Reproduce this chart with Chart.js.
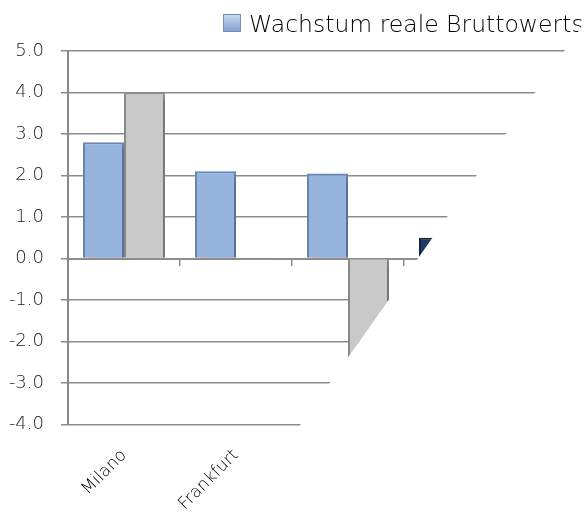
<!DOCTYPE html>
<html>
<head>
<meta charset="utf-8">
<script src="https://cdn.jsdelivr.net/npm/chart.js@4/dist/chart.umd.min.js"></script>
<style>
  html, body { margin: 0; padding: 0; background: #fff; overflow: hidden; }
  #wrap { width: 700px; height: 515px; }
</style>
</head>
<body>
<div id="wrap"><canvas id="chart" width="700" height="515"></canvas></div>
<script>
// categories (only the first two labels survive the cut-off in the original)
var categories = ['Milano', 'Frankfurt', '', '', ''];
var growthLabel = 'Wachstum reale Bruttowertschöpfung';
var growthValues = [2.8, 2.1, 2.05, 0.5, null];
var secondLabel = 'Serie 2';
var secondValues = [4.0, -0.03, -2.6, null, null];
var yTicks = { min: -4, max: 5, step: 1 };

var blueFill = ['#95b5df', '#95b5df', '#95b5df', '#1f3a60', '#95b5df'];
var blueEdge = ['#6a8ab8', '#6a8ab8', '#6a8ab8', '#14263f', '#6a8ab8'];

// the picture is cut along a diagonal line, everything right of it is blank
var diagonalCut = {
    id: 'diagonalCut',
    beforeDraw: function(chart) {
        var ctx = chart.ctx;
        ctx.save();
        ctx.beginPath();
        ctx.moveTo(0, 0);
        ctx.lineTo(600.5, 0);
        ctx.lineTo(236.5, 515);
        ctx.lineTo(0, 515);
        ctx.closePath();
        ctx.clip();
    },
    afterDraw: function(chart) {
        var ctx = chart.ctx;
        // legend, drawn by hand so it can start where the original did
        var ds = chart.data.datasets[0];
        var g = ctx.createLinearGradient(0, 14, 0, 32);
        g.addColorStop(0, '#c9dbf2');
        g.addColorStop(1, '#7f9fcc');
        ctx.fillStyle = g;
        ctx.fillRect(223, 14, 18, 18);
        ctx.strokeStyle = '#6e8dba';
        ctx.lineWidth = 1;
        ctx.strokeRect(223.5, 14.5, 17, 17);
        ctx.fillStyle = '#000';
        ctx.font = '300 23.5px "DejaVu Sans"';
        ctx.textBaseline = 'alphabetic';
        ctx.textAlign = 'left';
        ctx.fillText(ds.label, 249, 32);
        ctx.restore();
    }
};

var barShadow = {
    id: 'barShadow',
    beforeDatasetsDraw: function(chart) {
        var ctx = chart.ctx;
        ctx.save();
        ctx.shadowColor = 'rgba(0,0,0,0.28)';
        ctx.shadowBlur = 6;
        ctx.shadowOffsetX = 2;
        ctx.shadowOffsetY = 4;
    },
    afterDatasetsDraw: function(chart) {
        chart.ctx.restore();
    }
};

var ctx = document.getElementById('chart').getContext('2d');
new Chart(ctx, {
    type: 'bar',
    data: {
        labels: categories,
        datasets: [{
            label: growthLabel,
            data: growthValues,
            backgroundColor: blueFill,
            borderColor: blueEdge,
            borderWidth: 2,
            xAxisID: 'x'
        }, {
            label: secondLabel,
            data: secondValues,
            backgroundColor: '#c9c9c9',
            borderColor: '#8f8f8f',
            borderWidth: 2,
            xAxisID: 'x'
        }]
    },
    options: {
        responsive: false,
        animation: false,
        categoryPercentage: 0.732,
        barPercentage: 1.0,
        layout: { padding: { top: 51, right: 72, left: 0, bottom: 0 } },
        plugins: {
            legend: { display: false },
            tooltip: { enabled: false }
        },
        scales: {
            x: {
                position: { y: 0 },
                grid: { display: true, drawOnChartArea: false, offset: true, tickLength: 6, color: '#8c8c8c', lineWidth: 1.5 },
                border: { display: true, color: '#8c8c8c', width: 2 },
                ticks: { display: false }
            },
            x2: {
                type: 'category',
                labels: categories,
                position: 'bottom',
                grid: { display: false },
                border: { display: false },
                ticks: {
                    minRotation: 45,
                    maxRotation: 45,
                    autoSkip: false,
                    padding: 13,
                    color: '#000',
                    font: { family: 'DejaVu Sans', size: 17, weight: 300 }
                },
                afterFit: function(scale) {
                    scale.height = 90.5;
                    scale.paddingLeft = 0;
                    scale.paddingRight = 0;
                }
            },
            y: {
                min: yTicks.min,
                max: yTicks.max,
                grid: { color: '#8c8c8c', lineWidth: 1.5, tickLength: 7 },
                border: { display: true, color: '#888888', width: 2 },
                ticks: {
                    stepSize: yTicks.step,
                    padding: 17,
                    color: '#222',
                    font: { family: 'DejaVu Sans', size: 18, weight: 300 },
                    callback: function(v) { return Number(v).toFixed(1); }
                },
                afterFit: function(scale) {
                    scale.width = 68;
                    scale.paddingTop = 0;
                    scale.paddingBottom = 0;
                }
            }
        }
    },
    plugins: [diagonalCut, barShadow]
});
</script>
</body>
</html>
